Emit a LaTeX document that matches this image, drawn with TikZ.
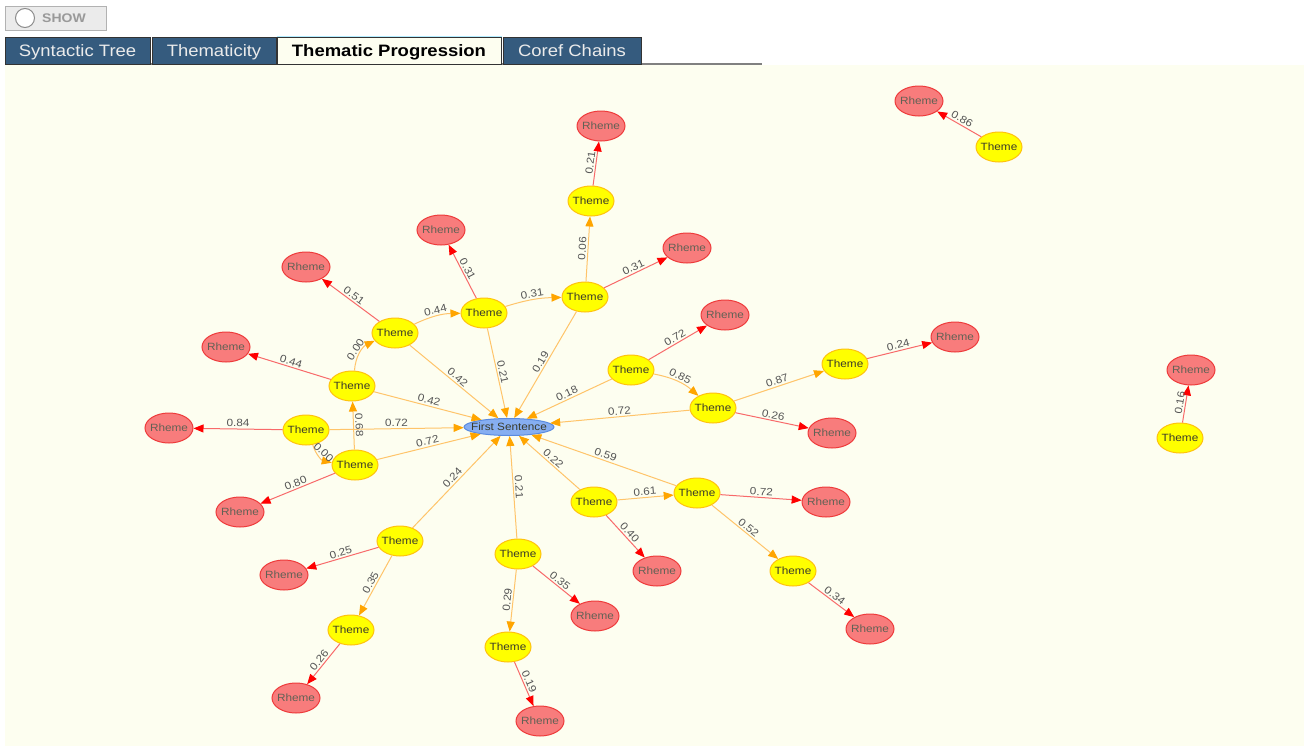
\documentclass[tikz,border=0pt]{standalone}
\usepackage{fontspec}
\setmainfont{Liberation Sans}
\newfontfamily\tabfont[FakeStretch=1.12]{Liberation Sans}
\usetikzlibrary{arrows.meta,shapes.geometric}
\definecolor{cream}{HTML}{FDFEF0}
\definecolor{tabblue}{HTML}{355B7E}
\definecolor{thfill}{HTML}{FFFF00}
\definecolor{thdraw}{HTML}{FFC20E}
\definecolor{rhfill}{HTML}{F87C7C}
\definecolor{rhdraw}{HTML}{EE3B3B}
\definecolor{fsfill}{HTML}{86AEF2}
\definecolor{fsdraw}{HTML}{5A8BE0}
\definecolor{oline}{HTML}{FFC46A}
\definecolor{ohead}{HTML}{FFA500}
\definecolor{rline}{HTML}{F86A6A}
\definecolor{rhead}{HTML}{FF0000}
\definecolor{lbl}{HTML}{555555}
\definecolor{ntext}{HTML}{3A3A2A}
\newcommand{\nbox}[2]{\makebox[#1][c]{#2}}
\tikzset{
  theme/.style={ellipse,draw=thdraw,fill=thfill,line width=1pt,minimum width=46pt,minimum height=30pt,inner sep=0pt,font=\tabfont\fontsize{10.5}{12}\selectfont,text=ntext},
  rheme/.style={ellipse,draw=rhdraw,fill=rhfill,line width=1pt,minimum width=48pt,minimum height=30pt,inner sep=0pt,font=\tabfont\fontsize{10.5}{12}\selectfont,text=ntext!80},
  fsnode/.style={ellipse,draw=fsdraw,fill=fsfill,line width=1pt,minimum width=90pt,minimum height=17pt,inner sep=0pt,font=\tabfont\fontsize{10.5}{12}\selectfont,text=ntext},
  oedge/.style={draw=oline,line width=1pt,-{Triangle[length=10pt,width=8pt,color=ohead]}},
  redge/.style={draw=rline,line width=1pt,-{Triangle[length=10pt,width=8pt,color=rhead]}},
  elbl/.style={sloped,above,inner sep=1.5pt,font=\tabfont\fontsize{10.5}{12}\selectfont,text=lbl},
  tabbox/.style={draw=black!80,fill=tabblue,line width=1pt,minimum height=27pt,inner sep=0pt},
  tabtxt/.style={inner sep=0pt,text=white!92!black,font=\tabfont\fontsize{16.5}{18}\selectfont},
}
\newcommand{\ThTxt}{\nbox{20pt}{Theme}}
\newcommand{\RhTxt}{\nbox{20pt}{Rheme}}
\begin{document}
\begin{tikzpicture}[x=1pt,y=-1pt]
\useasboundingbox (0,0) rectangle (1304,747);
\fill[white] (0,0) rectangle (1304,747);
\fill[cream] (5,65) rectangle (1304,746);
% SHOW button
\node[draw=black!30,fill=black!8,minimum width=101pt,minimum height=24pt,inner sep=0pt] (btn) at (55.5,18) {};
\draw[black!45,line width=1pt,fill=white] (25,18) circle (9.5pt);
\node[font=\tabfont\bfseries\fontsize{12.5}{14}\selectfont,text=black!40,anchor=west,inner sep=0pt] (showtxt) at (42,18.5) {SHOW};
% tabs
\draw[black!50,line width=1.5pt] (5,64) -- (762,64);
\node[tabbox,minimum width=145pt] (tab1) at (77.5,50.5) {};
\node[tabbox,minimum width=124pt] (tab2) at (214,50.5) {};
\node[tabbox,fill=cream,minimum width=224pt] (tab3) at (389,50.5) {};
\draw[blue!25!cyan!30,line width=1.5pt] (tab3.north west) -- (tab3.north east);
\node[tabbox,minimum width=138pt] (tab4) at (572,50.5) {};
\node[tabtxt,anchor=base] (tab1t) at (77.5,56) {Syntactic Tree};
\node[tabtxt,anchor=base] (tab2t) at (214,56) {Thematicity};
\node[tabtxt,anchor=base,text=black,font=\tabfont\bfseries\fontsize{16.5}{18}\selectfont] (tab3t) at (389,56) {Thematic Progression};
\node[tabtxt,anchor=base] (tab4t) at (572,56) {Coref Chains};
% nodes
\node[fsnode] (fs) at (509,427) {\nbox{50pt}{First Sentence}};
\node[theme] (t1) at (395,333) {\ThTxt};
\node[theme] (t2) at (484,313) {\ThTxt};
\node[theme] (t3) at (585,297) {\ThTxt};
\node[theme] (t4) at (591,201) {\ThTxt};
\node[theme] (t5) at (352,386) {\ThTxt};
\node[theme] (t6) at (306,430) {\ThTxt};
\node[theme] (t7) at (355,465) {\ThTxt};
\node[theme] (t8) at (631,370) {\ThTxt};
\node[theme] (t9) at (713,408) {\ThTxt};
\node[theme] (t10) at (845,364) {\ThTxt};
\node[theme] (t11) at (594,502) {\ThTxt};
\node[theme] (t12) at (697,493) {\ThTxt};
\node[theme] (t13) at (793,571) {\ThTxt};
\node[theme] (t14) at (400,541) {\ThTxt};
\node[theme] (t15) at (351,630) {\ThTxt};
\node[theme] (t16) at (518,554) {\ThTxt};
\node[theme] (t17) at (508,647) {\ThTxt};
\node[theme] (t18) at (999,147) {\ThTxt};
\node[theme] (t19) at (1180,438) {\ThTxt};
\node[rheme] (r1) at (601,126) {\RhTxt};
\node[rheme] (r2) at (441,230) {\RhTxt};
\node[rheme] (r3) at (687,248) {\RhTxt};
\node[rheme] (r4) at (306,267) {\RhTxt};
\node[rheme] (r5) at (226,347) {\RhTxt};
\node[rheme] (r6) at (169,428) {\RhTxt};
\node[rheme] (r7) at (240,512) {\RhTxt};
\node[rheme] (r8) at (725,315) {\RhTxt};
\node[rheme] (r9) at (955,337) {\RhTxt};
\node[rheme] (r10) at (832,433) {\RhTxt};
\node[rheme] (r11) at (826,502) {\RhTxt};
\node[rheme] (r12) at (657,571) {\RhTxt};
\node[rheme] (r13) at (870,629) {\RhTxt};
\node[rheme] (r14) at (284,575) {\RhTxt};
\node[rheme] (r15) at (296,698) {\RhTxt};
\node[rheme] (r16) at (595,616) {\RhTxt};
\node[rheme] (r17) at (540,721) {\RhTxt};
\node[rheme] (r18) at (919,101) {\RhTxt};
\node[rheme] (r19) at (1191,370) {\RhTxt};
% theme -> first sentence
\draw[oedge] (t1) -- node[elbl] {0.42} (fs);
\draw[oedge] (t2) -- node[elbl] {0.21} (fs);
\draw[oedge] (t3) -- node[elbl] {0.19} (fs);
\draw[oedge] (t5) -- node[elbl] {0.42} (fs);
\draw[oedge] (t6) -- node[elbl] {0.72} (fs);
\draw[oedge] (t7) -- node[elbl] {0.72} (fs);
\draw[oedge] (t8) -- node[elbl] {0.18} (fs);
\draw[oedge] (t9) -- node[elbl] {0.72} (fs);
\draw[oedge] (t12) -- node[elbl] {0.59} (fs);
\draw[oedge] (t11) -- node[elbl] {0.22} (fs);
\draw[oedge] (t16) -- node[elbl] {0.21} (fs);
\draw[oedge] (t14) -- node[elbl] {0.24} (fs);
% theme -> theme
\draw[oedge] (t1) to[bend left=12] node[elbl] {0.44} (t2);
\draw[oedge] (t2) to[bend left=8] node[elbl] {0.31} (t3);
\draw[oedge] (t3) -- node[elbl] {0.06} (t4);
\draw[oedge] (t5) to[bend left=30] node[elbl] {0.00} (t1);
\draw[oedge] (t6) to[bend right=30] node[elbl] {0.00} (t7);
\draw[oedge] (t7) -- node[elbl] {0.68} (t5);
\draw[oedge] (t8) to[bend left=15] node[elbl] {0.85} (t9);
\draw[oedge] (t9) -- node[elbl] {0.87} (t10);
\draw[oedge] (t11) -- node[elbl] {0.61} (t12);
\draw[oedge] (t12) -- node[elbl] {0.52} (t13);
\draw[oedge] (t14) -- node[elbl] {0.35} (t15);
\draw[oedge] (t16) -- node[elbl] {0.29} (t17);
% theme -> rheme
\draw[redge] (t4) -- node[elbl] {0.21} (r1);
\draw[redge] (t2) -- node[elbl] {0.31} (r2);
\draw[redge] (t3) -- node[elbl] {0.31} (r3);
\draw[redge] (t1) -- node[elbl] {0.51} (r4);
\draw[redge] (t5) -- node[elbl] {0.44} (r5);
\draw[redge] (t6) -- node[elbl] {0.84} (r6);
\draw[redge] (t7) -- node[elbl] {0.80} (r7);
\draw[redge] (t8) -- node[elbl] {0.72} (r8);
\draw[redge] (t10) -- node[elbl] {0.24} (r9);
\draw[redge] (t9) -- node[elbl] {0.26} (r10);
\draw[redge] (t12) -- node[elbl] {0.72} (r11);
\draw[redge] (t11) -- node[elbl] {0.40} (r12);
\draw[redge] (t13) -- node[elbl] {0.34} (r13);
\draw[redge] (t14) -- node[elbl] {0.25} (r14);
\draw[redge] (t15) -- node[elbl] {0.26} (r15);
\draw[redge] (t16) -- node[elbl] {0.35} (r16);
\draw[redge] (t17) -- node[elbl] {0.19} (r17);
\draw[redge] (t18) -- node[elbl] {0.86} (r18);
\draw[redge] (t19) -- node[elbl] {0.16} (r19);
\end{tikzpicture}
\end{document}
